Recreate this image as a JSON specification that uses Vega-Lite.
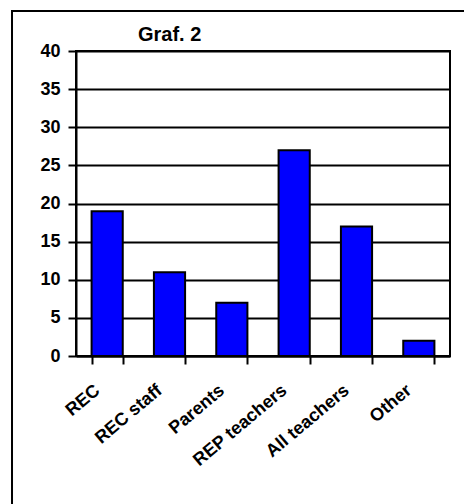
{
  "$schema": "https://vega.github.io/schema/vega-lite/v6.json",
  "autosize": {"type": "none"},
  "width": 374,
  "height": 305,
  "padding": {"left": 76, "top": 51, "right": 14, "bottom": 148},
  "background": "white",
  "config": {
    "font": "Liberation Sans",
    "view": {"stroke": "black", "strokeWidth": 2},
    "axis": {"labelFont": "Liberation Sans", "labelFontWeight": "bold", "labelColor": "black"}
  },
  "title": {
    "text": "Graf. 2",
    "anchor": "start",
    "frame": "group",
    "dx": 62,
    "fontSize": 20,
    "fontWeight": "bold",
    "font": "Liberation Sans",
    "color": "black",
    "baseline": "alphabetic",
    "offset": -51
  },
  "layer": [
    {
      "data": {"values": [{"bx0": -0.1711, "bx1": 1.2, "by0": -40, "by1": 45.25}]},
      "mark": {"type": "rect", "fill": null, "stroke": "black", "strokeWidth": 2},
      "encoding": {
        "x": {"field": "bx0", "type": "quantitative", "scale": {"domain": [0, 1], "nice": false, "zero": false}, "axis": null},
        "x2": {"field": "bx1"},
        "y": {"field": "by0", "type": "quantitative", "scale": {"domain": [0, 40], "nice": false, "zero": false}, "axis": null},
        "y2": {"field": "by1"}
      }
    },
    {
      "data": {"values": [
        {"group": "REC", "value": 19},
        {"group": "REC staff", "value": 11},
        {"group": "Parents", "value": 7},
        {"group": "REP teachers", "value": 27},
        {"group": "All teachers", "value": 17},
        {"group": "Other", "value": 2}
      ]},
      "mark": {"type": "bar", "fill": "#0000FF", "stroke": "black", "strokeWidth": 2},
      "encoding": {
        "x": {
          "field": "group", "type": "nominal", "sort": null,
          "scale": {"paddingInner": 0.5, "paddingOuter": 0.25},
          "axis": {
            "title": null, "labelAngle": -40, "labelFontSize": 18,
            "labelAlign": "right", "labelBaseline": "middle",
            "labelOffset": -10, "labelPadding": 24,
            "tickBand": "extent", "tickSize": 8, "tickWidth": 2, "tickColor": "black",
            "domainColor": "black", "domainWidth": 2
          }
        },
        "y": {
          "field": "value", "type": "quantitative",
          "scale": {"domain": [0, 40], "nice": false},
          "axis": {
            "title": null, "values": [0, 5, 10, 15, 20, 25, 30, 35, 40],
            "labelFontSize": 18, "labelPadding": 8,
            "tickSize": 8, "tickWidth": 2, "tickColor": "black",
            "domainColor": "black", "domainWidth": 2,
            "grid": true, "gridColor": "black", "gridWidth": 2, "gridOpacity": 1
          }
        }
      }
    }
  ],
  "resolve": {"scale": {"x": "independent", "y": "independent"}}
}
